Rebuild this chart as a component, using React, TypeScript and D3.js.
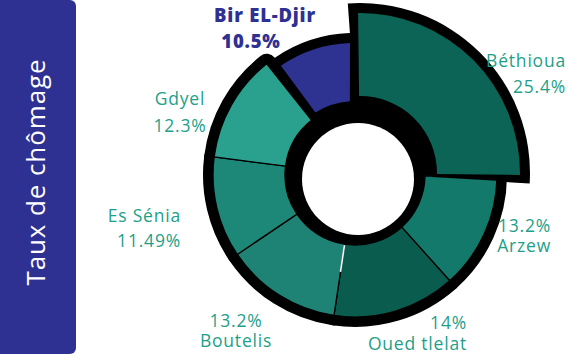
import React from "react";
import * as d3 from "d3";

const categories = ["Béthioua", "Arzew", "Oued tlelat", "Boutelis", "Es Sénia", "Gdyel", "Bir EL-Djir"];
const values = [25.4, 13.2, 14, 13.2, 11.49, 12.3, 10.5];
const valueLabels = ["25.4%", "13.2%", "14%", "13.2%", "11.49%", "12.3%", "10.5%"];
const title = "Taux de chômage";

const fills = ["#0c6456", "#13796a", "#0a5c4f", "#1e8375", "#1e8878", "#2aa18e", "#2e3391"];

// label layout: [x, y1, y2, anchor, nameFirst, dx2]
const labelLayout: [number, number, number, string, boolean, number][] = [
  [566, 67, 93, "end", true, 0],
  [551, 232, 252, "end", false, 0],
  [467, 329, 350, "end", false, 0],
  [236, 327, 347, "middle", false, 0],
  [181, 222, 247, "end", true, 0],
  [180, 105, 132, "middle", true, 0],
  [265, 22, 48, "middle", true, -14],
];

const W = 567;
const H = 354;
const CX = 355;
const CY = 175;

export default function App() {
  const total = d3.sum(values);
  const tilt = -((values[0] / total) * 2 * Math.PI - Math.PI / 2) / 2;
  const pie = d3
    .pie<number>()
    .sort(null)
    .value((d) => d)
    .startAngle(tilt)
    .endAngle(tilt + 2 * Math.PI);
  const arcs = pie(values);
  const arcGen = d3.arc<any>();
  const R0 = 70;
  const R1 = 142;

  const segPath = (i: number) => {
    const a = arcs[i];
    if (i === 6) {
      return arcGen({ innerRadius: 74, outerRadius: 132, startAngle: a.startAngle + 0.035, endAngle: a.endAngle + 0.014, padAngle: 0.07, cornerRadius: 9 });
    }
    return arcGen({ innerRadius: R0, outerRadius: R1, startAngle: a.startAngle, endAngle: a.endAngle });
  };
  const b = arcs[0];
  const bFill = arcGen({ innerRadius: 77, outerRadius: 160, startAngle: b.startAngle, endAngle: b.endAngle }) || "";
  const bShadow =
    arcGen({ innerRadius: 62, outerRadius: 170, startAngle: b.startAngle - 0.06, endAngle: b.endAngle + 0.05, cornerRadius: 8 }) || "";
  const bBorder =
    arcGen({ innerRadius: 72, outerRadius: 165, startAngle: b.startAngle - 0.04, endAngle: b.endAngle + 0.045 }) || "";
  const offB = "translate(5,-2)";

  // white artefact line on Oued tlelat / Boutelis boundary
  const bAng = arcs[3].startAngle;
  const wx1 = Math.sin(bAng) * (R0 + 1);
  const wy1 = -Math.cos(bAng) * (R0 + 1);
  const wx2 = Math.sin(bAng) * (R0 + 28);
  const wy2 = -Math.cos(bAng) * (R0 + 28);

  const teal = "#1e9f89";
  const font = "'Open Sans', Lato, sans-serif";

  return (
    <svg width={W} height={H} style={{ position: "absolute", left: 0, top: 0, background: "#fff" }}>
      <rect x={-12} y={0} width={88} height={H} rx={6} fill="#2e3192" />
      <text
        transform={`translate(35,172) rotate(-90)`}
        textAnchor="middle"
        dominantBaseline="central"
        fill="#fff"
        fontFamily={font}
        fontSize={26}
        fontWeight={500}
        letterSpacing={0.9}
      >
        {title}
      </text>

      <g transform={`translate(${CX},${CY})`}>
        {/* black outlines */}
        {arcs.map((a, i) =>
          i === 0 ? null : (
            <path key={"s" + i} d={segPath(i) || ""} fill="#000" stroke="#000" strokeWidth={20} strokeLinejoin="round" />
          )
        )}
        <circle r={R0 + 2} fill="#000" />
        <circle cx={3} cy={4} r={56} fill="#fff" />
        <path d={bShadow} transform={offB} fill="#000" />

        {/* segments */}
        {arcs.map((a, i) =>
          i === 0 || i === 6 ? null : (
            <path key={"f" + i} d={segPath(i) || ""} fill={fills[i]} stroke="#000" strokeWidth={1.3} />
          )
        )}
        <line x1={wx1} y1={wy1} x2={wx2} y2={wy2} stroke="#fff" strokeWidth={1.6} />
        <path d={bBorder} transform={offB} fill="#000" />
        <path d={bFill} transform={offB} fill={fills[0]} />
        <path d={segPath(6) || ""} fill={fills[6]} />
      </g>

      {categories.map((c, i) => {
        const [x, y1, y2, anchor, nameFirst, dx2] = labelLayout[i];
        const isHi = i === 6;
        const color = isHi ? "#2e3192" : teal;
        const first = nameFirst ? c : valueLabels[i];
        const second = nameFirst ? valueLabels[i] : c;
        return (
          <g
            key={"l" + i}
            fill={color}
            fontFamily={font}
            fontSize={isHi ? 18.5 : 17.5}
            fontWeight={isHi ? 800 : 500}
            textAnchor={anchor}
            letterSpacing={0.8}
          >
            <text x={x} y={y1}>{first}</text>
            <text x={x + dx2} y={y2}>{second}</text>
          </g>
        );
      })}
    </svg>
  );
}
